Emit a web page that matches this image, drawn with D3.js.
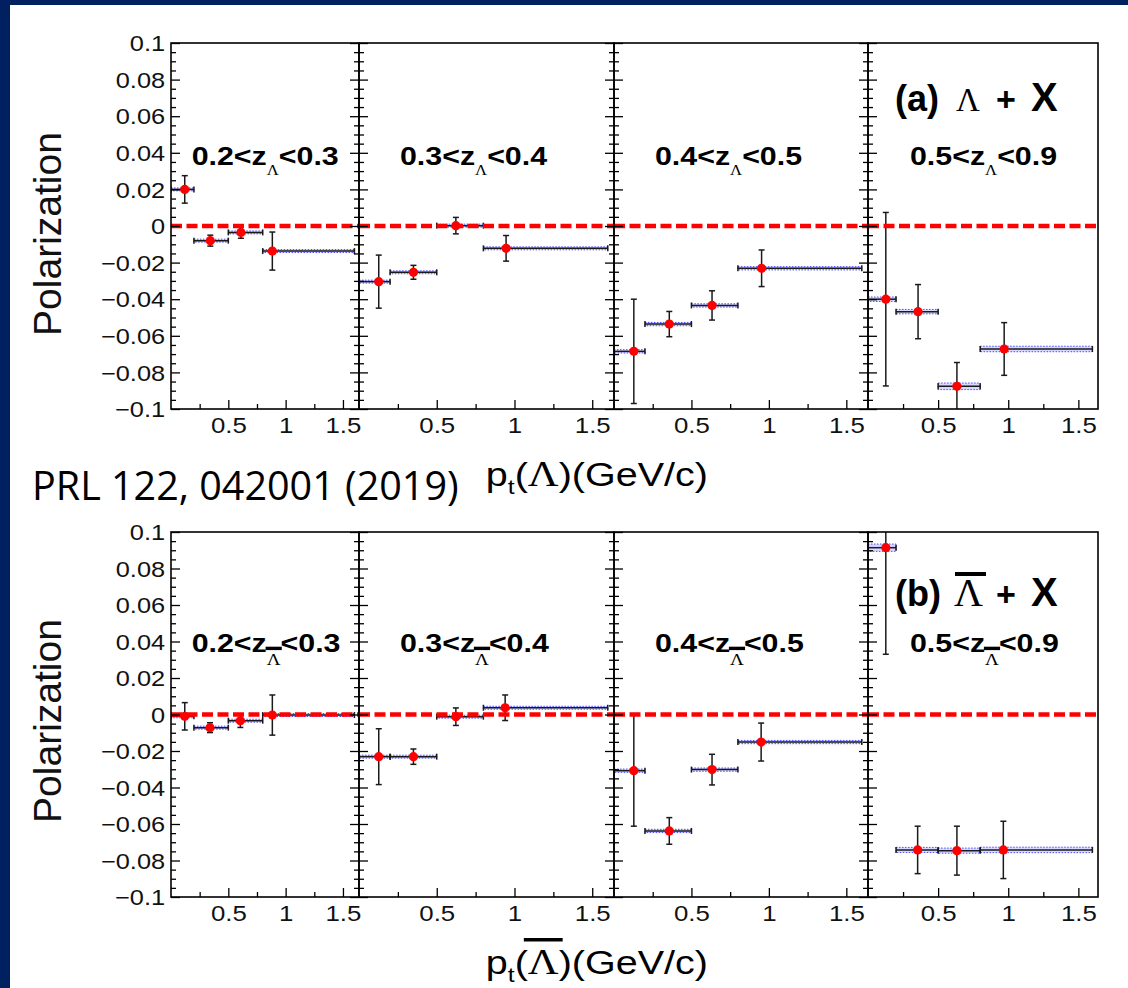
<!DOCTYPE html>
<html><head><meta charset="utf-8">
<script src="https://cdn.jsdelivr.net/npm/d3@7"></script>
<style>body{margin:0;background:#fff}svg{display:block}</style>
</head><body>
<svg id="chart" width="1128" height="988"></svg>
<script>
// ---------------- data ----------------
const binLo = [0, 0.2, 0.5, 0.8];
const binHi = [0.2, 0.5, 0.8, 1.6];
const zLow  = ["0.2", "0.3", "0.4", "0.5"];
const zHigh = ["0.3", "0.4", "0.5", "0.9"];

// Lambda + X  (panel a)
const lamPt   = [[0.12, 0.343, 0.61, 0.884],[0.127, 0.35, 0.623, 0.946],[0.128, 0.357, 0.633, 0.953],[0.127, 0.357, 0.634, 0.971]];
const lamPol  = [[0.020, -0.008, -0.0035, -0.0137],[-0.0304, -0.0253, 0.0002, -0.0122],[-0.0685, -0.0536, -0.0434, -0.0231],[-0.040, -0.0468, -0.0876, -0.0672]];
const lamStat = [[0.0075, 0.003, 0.0032, 0.0104],[0.0145, 0.0038, 0.0045, 0.007],[0.0285, 0.0069, 0.008, 0.010],[0.0474, 0.0148, 0.013, 0.0144]];
const lamSys  = [[0.0008, 0.0008, 0.0008, 0.0008],[0.0008, 0.0008, 0.0008, 0.0008],[0.0009, 0.0009, 0.0009, 0.0009],[0.0012, 0.0012, 0.0018, 0.0015]];

// anti-Lambda + X  (panel b)
const alamPt   = [[0.12, 0.34, 0.605, 0.884],[0.127, 0.35, 0.623, 0.94],[0.128, 0.357, 0.633, 0.95],[0.127, 0.354, 0.634, 0.965]];
const alamPol  = [[-0.001, -0.0072, -0.0034, -0.0003],[-0.0231, -0.0231, -0.0012, 0.0037],[-0.0308, -0.0638, -0.0302, -0.0151],[0.0914, -0.0742, -0.0746, -0.0742]];
const alamStat = [[0.0075, 0.0027, 0.0037, 0.011],[0.0153, 0.0042, 0.0048, 0.007],[0.0304, 0.0073, 0.0084, 0.0104],[0.0584, 0.013, 0.0134, 0.0157]];
const alamSys  = [[0.0008, 0.0008, 0.0008, 0.0008],[0.0008, 0.0008, 0.0008, 0.0008],[0.0009, 0.0009, 0.0009, 0.0009],[0.002, 0.0014, 0.0014, 0.0015]];

const yTicks = [-0.1, -0.08, -0.06, -0.04, -0.02, 0, 0.02, 0.04, 0.06, 0.08, 0.1];
const yMinor = [-0.095,-0.09,-0.085,-0.075,-0.07,-0.065,-0.055,-0.05,-0.045,-0.035,-0.03,-0.025,-0.015,-0.01,-0.005,
                0.005,0.01,0.015,0.025,0.03,0.035,0.045,0.05,0.055,0.065,0.07,0.075,0.085,0.09,0.095];
const xTicks = [0.5, 1, 1.5];
const xMinor = [0.25, 0.75, 1.25];
const xDomain = [0, 1.64];
const yDomain = [-0.1, 0.1];

// ---------------- layout ----------------
const SANS = "'Liberation Sans', Arial, Helvetica, sans-serif";
const SERIF = "'Liberation Serif', 'Times New Roman', serif";
const svg = d3.select("#chart");
svg.append("rect").attr("width",1128).attr("height",988).attr("fill","#fff");
svg.append("rect").attr("x",0).attr("y",0).attr("width",1128).attr("height",5).attr("fill","#002060");
svg.append("rect").attr("x",0).attr("y",0).attr("width",10).attr("height",988).attr("fill","#002060");

const panelX = [[171,359],[359,614],[614,868],[868,1098]];
const rows = [
  {top:43, bottom:409, pt:lamPt, pol:lamPol, stat:lamStat, sys:lamSys, bar:false, polY:234, labY:165, titleY:486, tag:"(a)", tagY:111},
  {top:532, bottom:897, pt:alamPt, pol:alamPol, stat:alamStat, sys:alamSys, bar:true, polY:721, labY:651.7, titleY:974, tag:"(b)", tagY:606}
];
const labX = [191.7, 400, 655, 910];

// rich text helper: sequential pieces, horizontal stretch sx
function rich(parent, parts, x, y, anchor, sx) {
  const g = parent.append("g");
  const inner = g.append("g");
  let cx = 0;
  parts.forEach(p => {
    const t = inner.append("text").attr("x", cx).attr("y", p.dy || 0)
      .style("font-family", p.family || SANS).style("font-size", p.size + "px")
      .style("font-weight", p.weight || "normal").attr("fill", "#000").text(p.t);
    const w = t.node().getComputedTextLength();
    if (p.over) {
      inner.append("rect").attr("x", cx - p.over.ext).attr("width", w + 2 * p.over.ext)
        .attr("y", p.over.y).attr("height", p.over.h).attr("fill", "#000");
    }
    cx += w;
  });
  const off = anchor === "end" ? -cx : anchor === "middle" ? -cx / 2 : 0;
  g.attr("transform", `translate(${x},${y}) scale(${sx},1)`);
  inner.attr("transform", `translate(${off},0)`);
  return g;
}

rows.forEach((row, ri) => {
  const y = d3.scaleLinear().domain(yDomain).range([row.bottom, row.top]);

  panelX.forEach(([x0, x1], pi) => {
    const x = d3.scaleLinear().domain(xDomain).range([x0, x1]);
    const g = svg.append("g");
    const clipId = `clip-${ri}-${pi}`;
    svg.append("clipPath").attr("id", clipId).append("rect")
      .attr("x", x0).attr("y", row.top).attr("width", x1 - x0).attr("height", row.bottom - row.top);

    const data = row.pt[pi].map((pt, i) => ({
      pt, lo: binLo[i], hi: binHi[i], pol: row.pol[pi][i], stat: row.stat[pi][i], sys: row.sys[pi][i]
    }));

    const plot = g.append("g").attr("clip-path", `url(#${clipId})`);
    // systematic boxes
    plot.selectAll("rect.sys").data(data).join("rect").attr("class","sys")
      .attr("x", d => x(d.lo)).attr("width", d => x(d.hi) - x(d.lo))
      .attr("y", d => y(d.pol + d.sys)).attr("height", d => y(d.pol - d.sys) - y(d.pol + d.sys))
      .attr("fill", "rgba(140,140,255,0.35)").attr("stroke", "#3a3aff").attr("stroke-width", 0.9)
      .attr("stroke-dasharray", "1.5,1.5");

    // error bars
    const eb = plot.append("g").attr("stroke", "#1a1a1a").attr("stroke-width", 1.5).attr("fill", "none");
    const cap = 3;
    data.forEach(d => {
      const cy = y(d.pol), cxp = x(d.pt);
      eb.append("line").attr("x1", x(d.lo)).attr("x2", x(d.hi)).attr("y1", cy).attr("y2", cy);
      eb.append("line").attr("x1", x(d.lo)).attr("x2", x(d.lo)).attr("y1", cy - cap).attr("y2", cy + cap);
      eb.append("line").attr("x1", x(d.hi)).attr("x2", x(d.hi)).attr("y1", cy - cap).attr("y2", cy + cap);
      const yt = y(d.pol + d.stat), yb = y(d.pol - d.stat);
      eb.append("line").attr("x1", cxp).attr("x2", cxp).attr("y1", yt).attr("y2", yb);
      eb.append("line").attr("x1", cxp - cap).attr("x2", cxp + cap).attr("y1", yt).attr("y2", yt);
      eb.append("line").attr("x1", cxp - cap).attr("x2", cxp + cap).attr("y1", yb).attr("y2", yb);
    });

    // zero line
    plot.append("line").attr("x1", x0).attr("x2", x1).attr("y1", y(0)).attr("y2", y(0))
      .attr("stroke", "#ff0000").attr("stroke-width", 4.5).attr("stroke-dasharray", "11,4.5");

    // markers
    plot.selectAll("circle").data(data).join("circle")
      .attr("cx", d => x(d.pt)).attr("cy", d => y(d.pol)).attr("r", 4.6).attr("fill", "#ff0000");

    // ticks
    const tk = g.append("g").attr("color", "#000");
    const strip = s => { s.select(".domain").remove(); s.selectAll("line").attr("stroke-width", 1.3); };
    tk.append("g").attr("transform", `translate(${x0},0)`)
      .call(d3.axisRight(y).tickValues(yTicks).tickSize(9).tickFormat("")).call(strip);
    tk.append("g").attr("transform", `translate(${x0},0)`)
      .call(d3.axisRight(y).tickValues(yMinor).tickSize(5).tickFormat("")).call(strip);
    if (pi < 3) {
      tk.append("g").attr("transform", `translate(${x1},0)`)
        .call(d3.axisLeft(y).tickValues(yTicks).tickSize(9).tickFormat("")).call(strip);
      tk.append("g").attr("transform", `translate(${x1},0)`)
        .call(d3.axisLeft(y).tickValues(yMinor).tickSize(5).tickFormat("")).call(strip);
    }
    tk.append("g").attr("transform", `translate(0,${row.bottom})`)
      .call(d3.axisTop(x).tickValues(xTicks).tickSize(9).tickFormat("")).call(strip);
    tk.append("g").attr("transform", `translate(0,${row.bottom})`)
      .call(d3.axisTop(x).tickValues(xMinor).tickSize(5).tickFormat("")).call(strip);

    // x tick labels
    const xl = g.append("g").attr("transform", `translate(0,${row.bottom})`)
      .call(d3.axisBottom(x).tickValues(xTicks).tickSize(0).tickPadding(8.5).tickFormat(d3.format("~g")));
    xl.select(".domain").remove();
    xl.selectAll("text").style("font-family", SANS).style("font-size", "21.5px").attr("fill", "#111")
      .attr("transform", "scale(1.2,1)");

    // y tick labels on first panel
    if (pi === 0) {
      const yl = g.append("g").attr("transform", `translate(${x0},0)`)
        .call(d3.axisLeft(y).tickValues(yTicks).tickSize(0).tickPadding(5)
          .tickFormat(d => d === 0 ? "0" : d3.format("~g")(d)));
      yl.select(".domain").remove();
      yl.selectAll("text").style("font-family", SANS).style("font-size", "21.5px").attr("fill", "#111")
        .attr("dy", "0.36em").attr("transform", "scale(1.18,1)");
    }

    // frame
    g.append("rect").attr("x", x0).attr("y", row.top).attr("width", x1 - x0).attr("height", row.bottom - row.top)
      .attr("fill", "none").attr("stroke", "#000").attr("stroke-width", 1.6);

    // z range label
    const subSize = row.bar ? 16 : 14;
    const subDy = row.bar ? 13 : 10;
    rich(svg, [
      {t: zLow[pi] + "<z", size: 25.5, weight: "bold"},
      {t: "Λ", size: subSize, family: SERIF, dy: subDy, over: row.bar ? {y: -5, h: 3.4, ext: 1} : null},
      {t: "<" + zHigh[pi], size: 25.5, weight: "bold"}
    ], labX[pi], row.labY, "start", 1.19);
  });

  // y title
  svg.append("text").attr("transform", `translate(61,${row.polY}) rotate(-90)`)
    .attr("text-anchor", "middle").style("font-family", SANS).style("font-size", "39px")
    .attr("fill", "#111").text("Polarization");

  // x title
  rich(svg, [
    {t: "p", size: 33.5},
    {t: "t", size: 21, dy: 8},
    {t: "(", size: 33.5},
    {t: "Λ", size: 36, family: SERIF, over: row.bar ? {y: -36, h: 3.5, ext: 3.4} : null},
    {t: ")(GeV/c)", size: 33.5}
  ], 708, row.titleY, "end", 1.18);

  // reaction tag
  svg.append("text").attr("x", 895).attr("y", row.tagY).style("font-family", SANS)
    .style("font-size", "36px").style("font-weight", "bold").text(row.tag);
  svg.append("text").attr("x", row.bar ? 954 : 956).attr("y", row.tagY).style("font-family", SERIF)
    .style("font-size", row.bar ? "40px" : "33px").text("Λ");
  if (row.bar) {
    svg.append("rect").attr("x", 955).attr("y", row.tagY - 34).attr("width", 31).attr("height", 4).attr("fill", "#000");
  }
  svg.append("text").attr("x", 996).attr("y", row.tagY).style("font-family", SANS)
    .style("font-size", "34px").style("font-weight", "bold").text("+");
  svg.append("text").attr("x", 1031).attr("y", row.tagY).style("font-family", SANS)
    .style("font-size", "40px").style("font-weight", "bold").text("X");
});

// reference note
svg.append("text").attr("x", 32).attr("y", 500).style("font-family", "'Open Sans', 'Noto Sans', sans-serif")
  .style("font-size", "39.5px").attr("fill", "#000").text("PRL 122, 042001 (2019)");
</script>
</body></html>
